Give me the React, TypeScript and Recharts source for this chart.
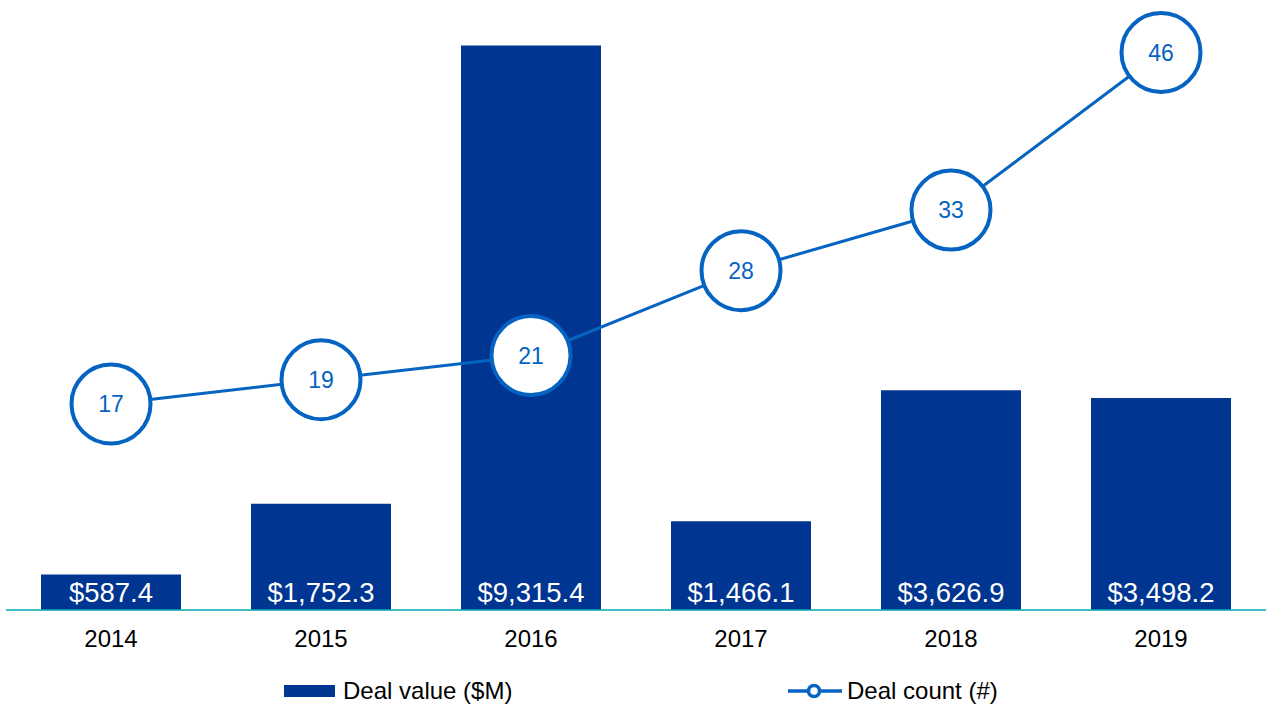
import React from 'react';
import {
  ComposedChart,
  Bar,
  Line,
  XAxis,
  YAxis,
  LabelList,
} from 'recharts';

const years = ['2014', '2015', '2016', '2017', '2018', '2019'];
const dealValues = [587.4, 1752.3, 9315.4, 1466.1, 3626.9, 3498.2];
const dealCounts = [17, 19, 21, 28, 33, 46];

const BAR_COLOR = '#003591';
const LINE_COLOR = '#0563C1';
const AXIS_COLOR = '#00A9B5';
const FONT = '"Liberation Sans", Arial, sans-serif';

const data = years.map((year, i) => ({
  year,
  value: dealValues[i],
  count: dealCounts[i],
}));

const formatMoney = (v: number) =>
  '$' + v.toLocaleString('en-US', { minimumFractionDigits: 1, maximumFractionDigits: 1 });

export default function App() {
  return (
    <div style={{ position: 'absolute', left: 0, top: 0, width: 1270, height: 706, fontFamily: FONT, background: '#fff' }}>
      <ComposedChart
        width={1270}
        height={706}
        data={data}
        margin={{ top: 4, right: 4, bottom: 56, left: 6 }}
      >
        <XAxis
          dataKey="year"
          axisLine={{ stroke: AXIS_COLOR, strokeWidth: 1.5 }}
          tickLine={false}
          tickMargin={14}
          height={40}
          tick={{ fill: '#000', fontSize: 24, fontFamily: FONT }}
        />
        <YAxis yAxisId="left" hide domain={[0, 10000]} />
        <YAxis yAxisId="right" hide orientation="right" domain={[0, 50]} />
        <Bar
          yAxisId="left"
          dataKey="value"
          fill={BAR_COLOR}
          barSize={140}
          isAnimationActive={false}
        >
          <LabelList
            dataKey="value"
            position="insideBottom"
            offset={8}
            formatter={(v: any) => formatMoney(Number(v))}
            style={{ fill: '#fff', fontSize: 27.5, fontFamily: FONT }}
          />
        </Bar>
        <Line
          yAxisId="right"
          dataKey="count"
          stroke={LINE_COLOR}
          strokeWidth={3}
          dot={{ r: 39.5, fill: '#fff', stroke: LINE_COLOR, strokeWidth: 4 }}
          activeDot={false}
          isAnimationActive={false}
        >
          <LabelList
            dataKey="count"
            position="center"
            style={{ fill: LINE_COLOR, fontSize: 23, fontFamily: FONT }}
          />
        </Line>
      </ComposedChart>
      <div style={{ position: 'absolute', left: 284, top: 677, height: 28, display: 'flex', alignItems: 'center', fontSize: 24, color: '#000' }}>
        <div style={{ width: 51, height: 12, background: BAR_COLOR, marginRight: 8 }} />
        <span>Deal value ($M)</span>
      </div>
      <div style={{ position: 'absolute', left: 788, top: 677, height: 28, display: 'flex', alignItems: 'center', fontSize: 24, color: '#000' }}>
        <svg width={54} height={20} style={{ marginRight: 5 }}>
          <line x1={0} y1={10} x2={54} y2={10} stroke={LINE_COLOR} strokeWidth={3.5} />
          <circle cx={26} cy={10} r={5.5} fill="#fff" stroke={LINE_COLOR} strokeWidth={3.5} />
        </svg>
        <span>Deal count (#)</span>
      </div>
    </div>
  );
}
